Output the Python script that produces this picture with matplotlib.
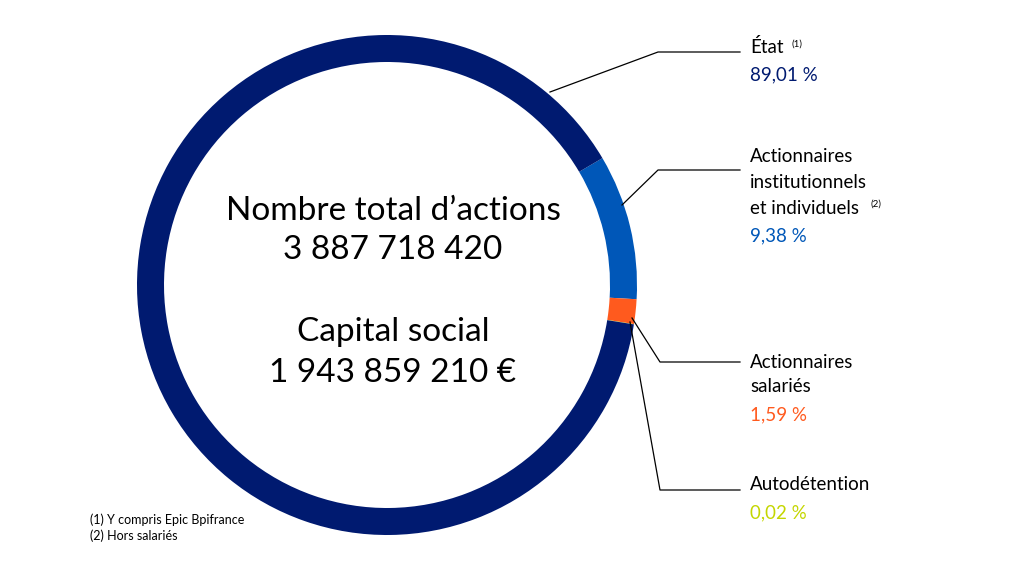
import matplotlib
matplotlib.use("Agg")
import matplotlib.pyplot as plt

plt.rcParams["font.family"] = "Lato"

categories = ["Actionnaires institutionnels et individuels", "Actionnaires salariés", "Autodétention", "État"]
values = [9.38, 1.59, 0.02, 89.01]
colors = ["#0057B8", "#FF5A1E", "#C4D600", "#001A70"]
value_labels = ["9,38 %", "1,59 %", "0,02 %", "89,01 %"]

fig = plt.figure(figsize=(10.2, 5.7), dpi=100)
ax = fig.add_axes([0, 0, 1, 1])

# y axis is inverted below, so counterclock=True renders clockwise on screen
ax.pie(values, colors=colors, center=(387, 285), radius=250, startangle=-30.5,
       counterclock=True, wedgeprops=dict(width=27, linewidth=0), frame=True)
ax.set_xlim(0, 1020)
ax.set_ylim(570, 0)
ax.set_aspect("equal")
ax.axis("off")

lw = 0.9
ax.plot([550, 658, 740], [92, 52, 52], color="black", lw=lw)
ax.plot([622, 658, 740], [205, 170, 170], color="black", lw=lw)
ax.plot([632, 660, 740], [318, 362, 362], color="black", lw=lw)
ax.plot([630, 660, 740], [322, 490, 490], color="black", lw=lw)

fs = 13.5
tx = 750
ax.text(tx, 47, "État", fontsize=fs, va="center")
ax.text(tx + 42, 44, "(1)", fontsize=7, va="center")
ax.text(tx, 75, value_labels[3], fontsize=fs, va="center", color=colors[3])
for y, s in zip([157, 183, 208], ["Actionnaires", "institutionnels", "et individuels"]):
    ax.text(tx, y, s, fontsize=fs, va="center")
ax.text(tx + 121, 204, "(2)", fontsize=7, va="center")
ax.text(tx, 236, value_labels[0], fontsize=fs, va="center", color=colors[0])
ax.text(tx, 362, "Actionnaires", fontsize=fs, va="center")
ax.text(tx, 387, "salariés", fontsize=fs, va="center")
ax.text(tx, 415, value_labels[1], fontsize=fs, va="center", color=colors[1])
ax.text(tx, 484, "Autodétention", fontsize=fs, va="center")
ax.text(tx, 513, value_labels[2], fontsize=fs, va="center", color=colors[2])

cfs = 24
ax.text(393, 211, "Nombre total d\u2019actions", fontsize=cfs, ha="center", va="center")
ax.text(393, 250, "3 887 718 420", fontsize=cfs, ha="center", va="center")
ax.text(393, 332, "Capital social", fontsize=cfs, ha="center", va="center")
ax.text(393, 373, "1 943 859 210 \u20ac", fontsize=cfs, ha="center", va="center")

ax.text(90, 520, "(1) Y compris Epic Bpifrance", fontsize=9, va="center")
ax.text(90, 536, "(2) Hors salariés", fontsize=9, va="center")

fig.savefig("out.png", dpi=100)
